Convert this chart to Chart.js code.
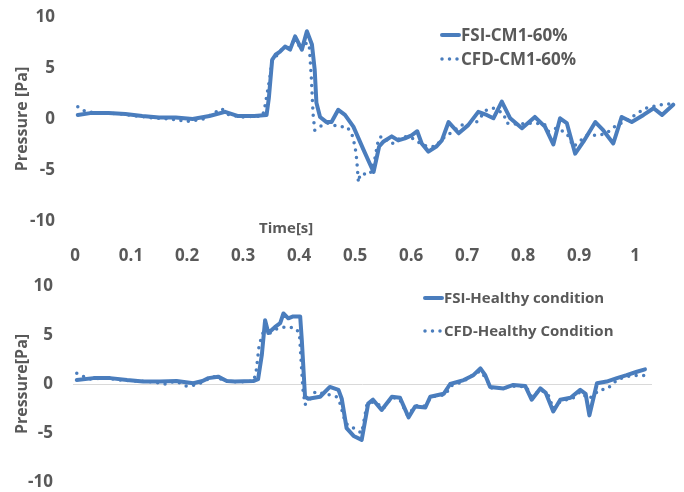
<!DOCTYPE html>
<html>
<head>
<meta charset="utf-8">
<script src="https://cdn.jsdelivr.net/npm/chart.js@4/dist/chart.umd.min.js"></script>
<style>
  html, body { margin: 0; padding: 0; background: #ffffff; }
  body { width: 684px; height: 492px; position: relative; overflow: hidden; }
  .panel { position: absolute; left: 0; width: 684px; }
  #topPanel { top: 0; height: 270px; }
  #bottomPanel { top: 270px; height: 222px; }
</style>
</head>
<body>
<div class="panel" id="topPanel"><canvas id="topChart"></canvas></div>
<div class="panel" id="bottomPanel"><canvas id="bottomChart"></canvas></div>
<script>
// ---- Pressure histories (time in s, pressure in Pa) ----

// Stenosed case (CM1, 60%)
const fsiCm1Time = [0.005,0.03,0.06,0.09,0.12,0.15,0.18,0.21,0.24,0.268,0.29,0.32,0.342,0.346,0.352,0.358,0.366,0.375,0.384,0.393,0.405,0.414,0.423,0.428,0.431,0.4375,0.449,0.458,0.470,0.482,0.497,0.515,0.533,0.543,0.551,0.5655,0.577,0.589,0.601,0.611,0.619,0.631,0.645,0.655,0.667,0.685,0.702,0.720,0.735,0.747,0.762,0.777,0.798,0.821,0.839,0.854,0.866,0.878,0.893,0.908,0.929,0.943,0.961,0.976,0.994,1.015,1.033,1.048,1.068];
const fsiCm1Pressure = [0.4,0.6,0.6,0.5,0.3,0.15,0.15,0.0,0.3,0.7,0.3,0.3,0.4,2.0,5.8,6.3,6.6,7.1,6.8,8.1,6.8,8.6,7.3,4.8,1.6,0.2,-0.3,-0.3,0.9,0.4,-0.75,-3.0,-5.2,-2.7,-2.2,-1.7,-2.1,-1.9,-1.6,-1.2,-2.4,-3.2,-2.7,-2.1,-0.3,-1.4,-0.6,0.7,0.4,0.07,1.7,0.07,-0.9,0.2,-0.75,-2.5,0.07,-0.4,-3.4,-2.2,-0.3,-1.1,-2.4,0.2,-0.3,0.4,1.05,0.4,1.4];

const cfdCm1Time = [0.005,0.02,0.05,0.08,0.11,0.14,0.17,0.20,0.23,0.247,0.262,0.275,0.30,0.335,0.339,0.348,0.352,0.36,0.37,0.38,0.39,0.40,0.41,0.418,0.422,0.425,0.428,0.435,0.45,0.47,0.485,0.494,0.5,0.503,0.506,0.509,0.527,0.535,0.542,0.548,0.5655,0.585,0.60,0.619,0.63,0.645,0.652,0.67,0.69,0.717,0.735,0.747,0.765,0.771,0.79,0.815,0.838,0.845,0.86,0.878,0.89,0.914,0.934,0.949,0.967,0.98,1.0,1.018,1.045,1.068];
const cfdCm1Pressure = [1.2,0.7,0.6,0.5,0.3,0.1,0.0,-0.25,0.0,0.55,1.0,0.4,0.2,0.3,1.2,4.1,5.8,6.2,6.9,7.0,7.6,7.2,7.4,7.4,4.0,0.5,-1.1,-0.8,-0.4,-0.75,-0.75,-1.4,-2.7,-4.0,-6.2,-5.4,-5.4,-4.0,-1.9,-1.7,-2.45,-1.7,-1.8,-2.5,-2.7,-2.7,-2.1,-1.4,-0.6,-0.3,0.9,1.05,0.55,-0.4,-0.5,-0.4,-0.5,-1.2,-0.9,-1.4,-2.7,-1.6,-1.6,-1.4,-0.6,-0.3,0.4,1.05,1.4,1.5];

// Healthy case
const fsiHealthyTime = [0.007,0.038,0.069,0.10,0.13,0.161,0.192,0.223,0.24,0.251,0.269,0.285,0.30,0.334,0.343,0.350,0.356,0.362,0.374,0.384,0.39,0.399,0.408,0.421,0.424,0.43,0.436,0.458,0.476,0.492,0.498,0.507,0.52,0.535,0.547,0.556,0.572,0.591,0.606,0.622,0.634,0.653,0.662,0.687,0.699,0.724,0.742,0.755,0.764,0.773,0.798,0.816,0.838,0.85,0.866,0.876,0.89,0.903,0.922,0.94,0.95,0.957,0.971,0.989,1.008,1.026,1.045,1.06];
const fsiHealthyPressure = [0.4,0.6,0.6,0.4,0.25,0.25,0.3,0.07,0.3,0.6,0.75,0.3,0.25,0.3,0.5,3.0,6.5,5.2,5.8,6.2,7.2,6.7,6.9,6.9,4.5,-1.3,-1.5,-1.3,-0.3,-0.6,-1.5,-4.5,-5.3,-5.7,-2.0,-1.6,-2.65,-1.3,-1.4,-3.4,-2.3,-2.4,-1.3,-1.0,0.0,0.4,0.9,1.6,0.9,-0.3,-0.45,-0.1,-0.2,-1.6,-0.45,-0.9,-2.8,-1.6,-1.4,-0.6,-1.0,-3.2,0.07,0.25,0.6,0.9,1.25,1.5];

const cfdHealthyTime = [0.007,0.03,0.06,0.09,0.12,0.15,0.17,0.19,0.21,0.23,0.25,0.265,0.28,0.31,0.335,0.34,0.345,0.352,0.365,0.377,0.39,0.402,0.415,0.42,0.426,0.43,0.44,0.449,0.476,0.488,0.495,0.505,0.526,0.535,0.545,0.56,0.575,0.59,0.605,0.62,0.635,0.65,0.665,0.69,0.70,0.725,0.745,0.755,0.765,0.775,0.80,0.82,0.84,0.85,0.866,0.88,0.89,0.905,0.925,0.94,0.955,0.962,0.975,0.99,1.01,1.03,1.054,1.07];
const cfdHealthyPressure = [1.1,0.5,0.6,0.4,0.3,0.2,0.0,0.3,-0.2,-0.1,0.5,0.8,0.3,0.2,0.3,1.5,4.0,5.2,5.2,5.6,5.8,5.8,5.6,4.8,-0.5,-2.1,-1.5,-0.8,-1.1,-1.3,-2.0,-4.0,-4.7,-5.0,-2.0,-1.8,-2.5,-1.4,-1.5,-3.2,-2.2,-2.3,-1.3,-1.1,-0.2,0.3,1.1,1.3,0.6,-0.4,-0.4,-0.2,-0.3,-1.3,-0.6,-1.0,-2.5,-1.7,-1.5,-0.8,-1.5,-1.3,-0.6,-0.5,0.5,0.8,0.9,0.8];

// Axis ticks
const timeTicks = [0, 0.1, 0.2, 0.3, 0.4, 0.5, 0.6, 0.7, 0.8, 0.9, 1];
const pressureTicks = [-10, -5, 0, 5, 10];

// ---- Styling ----
const LINE_BLUE = '#4a7dbd';
const TEXT_GREY = '#595959';
const FONT = "'Open Sans', 'DejaVu Sans', sans-serif";

const toPoints = (t, p) => t.map((x, i) => ({ x, y: p[i] }));

function solidSeries(label, t, p) {
  return {
    label, data: toPoints(t, p),
    borderColor: LINE_BLUE, backgroundColor: LINE_BLUE,
    borderWidth: 4, pointRadius: 0, tension: 0,
    borderCapStyle: 'round', borderJoinStyle: 'round'
  };
}
function dottedSeries(label, t, p) {
  return {
    label, data: toPoints(t, p),
    borderColor: LINE_BLUE, backgroundColor: LINE_BLUE,
    borderWidth: 3.5, pointRadius: 0, tension: 0,
    borderDash: [0, 7.5], borderCapStyle: 'round', borderJoinStyle: 'round'
  };
}

// Legend drawn inside the plot: a line sample followed by the series name.
const seriesKey = {
  id: 'seriesKey',
  afterDraw(chart, args, opts) {
    const ctx = chart.ctx;
    ctx.save();
    ctx.font = `${opts.weight} ${opts.size}px ${FONT}`;
    ctx.fillStyle = TEXT_GREY;
    ctx.textBaseline = 'middle';
    chart.data.datasets.forEach((ds, i) => {
      const y = opts.y + i * opts.rowGap;
      ctx.strokeStyle = ds.borderColor;
      ctx.lineCap = 'round';
      ctx.lineWidth = ds.borderWidth;
      ctx.setLineDash(ds.borderDash || []);
      ctx.beginPath();
      ctx.moveTo(opts.x + 1, y);
      ctx.lineTo(opts.x + opts.sample - (ds.borderDash ? 0 : 1), y);
      ctx.stroke();
      ctx.setLineDash([]);
      ctx.fillText(ds.label, opts.x + opts.sample + 1, y + 1);
    });
    ctx.restore();
  }
};

// Horizontal axis caption placed between the plot and the tick labels.
const timeCaption = {
  id: 'timeCaption',
  afterDraw(chart, args, opts) {
    if (!opts.text) return;
    const ctx = chart.ctx;
    ctx.save();
    ctx.font = `bold ${opts.size}px ${FONT}`;
    ctx.fillStyle = TEXT_GREY;
    ctx.textAlign = 'center';
    ctx.textBaseline = 'middle';
    ctx.fillText(opts.text, chart.scales.x.getPixelForValue(opts.at), opts.y);
    ctx.restore();
  }
};

function pressureAxis(title, width, showZero) {
  return {
    type: 'linear', min: -10, max: 10,
    afterBuildTicks: s => { s.ticks = pressureTicks.map(v => ({ value: v })); },
    // fixed axis width; the plot edges come from the layout padding alone
    afterFit: s => { s.width = width; s.paddingTop = 0; s.paddingBottom = 0; },
    ticks: {
      color: TEXT_GREY, padding: 20,
      font: { family: FONT, size: 17, weight: 'bold' }
    },
    grid: {
      drawTicks: false,
      color: c => (showZero && c.tick && c.tick.value === 0) ? '#d9d9d9' : 'rgba(0,0,0,0)',
      lineWidth: 1
    },
    border: { display: false },
    title: {
      display: true, text: title, color: TEXT_GREY,
      font: { family: FONT, size: 16, weight: 'bold' },
      padding: { top: 13, bottom: 0 }
    }
  };
}

// Upper panel: CM1 60%
new Chart(document.getElementById('topChart'), {
  type: 'line',
  data: {
    datasets: [
      solidSeries('FSI-CM1-60%', fsiCm1Time, fsiCm1Pressure),
      dottedSeries('CFD-CM1-60%', cfdCm1Time, cfdCm1Pressure)
    ]
  },
  plugins: [seriesKey, timeCaption],
  options: {
    responsive: true, maintainAspectRatio: false, animation: false,
    devicePixelRatio: 1,
    layout: { padding: { left: 0, right: 8, top: 17, bottom: 0 } },
    plugins: {
      legend: { display: false }, tooltip: { enabled: false },
      seriesKey: { x: 441, y: 35, rowGap: 24, sample: 19, size: 17, weight: 'bold' },
      timeCaption: { text: 'Time[s]', at: 0.377, y: 229, size: 15 }
    },
    scales: {
      x: {
        type: 'linear', min: 0, max: 1.073,
        afterBuildTicks: s => { s.ticks = timeTicks.map(v => ({ value: v })); },
        afterFit: s => { s.height = 49; },
        ticks: {
          color: TEXT_GREY, padding: 25, autoSkip: false, maxRotation: 0,
          font: { family: FONT, size: 17, weight: 'bold' },
          callback: v => String(+v.toFixed(1))
        },
        grid: { display: false, drawTicks: false },
        border: { display: false }
      },
      y: pressureAxis('Pressure [Pa]', 75, false)
    }
  }
});

// Lower panel: healthy condition
new Chart(document.getElementById('bottomChart'), {
  type: 'line',
  data: {
    datasets: [
      solidSeries('FSI-Healthy condition', fsiHealthyTime, fsiHealthyPressure),
      dottedSeries('CFD-Healthy Condition', cfdHealthyTime, cfdHealthyPressure)
    ]
  },
  plugins: [seriesKey],
  options: {
    responsive: true, maintainAspectRatio: false, animation: false,
    devicePixelRatio: 1,
    layout: { padding: { left: 0, right: 32, top: 16, bottom: 10 } },
    plugins: {
      legend: { display: false }, tooltip: { enabled: false },
      seriesKey: { x: 424, y: 28, rowGap: 33, sample: 19, size: 15, weight: 'bold' }
    },
    scales: {
      x: { type: 'linear', min: 0, max: 1.073, display: false },
      y: pressureAxis('Pressure[Pa]', 73, true)
    }
  }
});
</script>
</body>
</html>
